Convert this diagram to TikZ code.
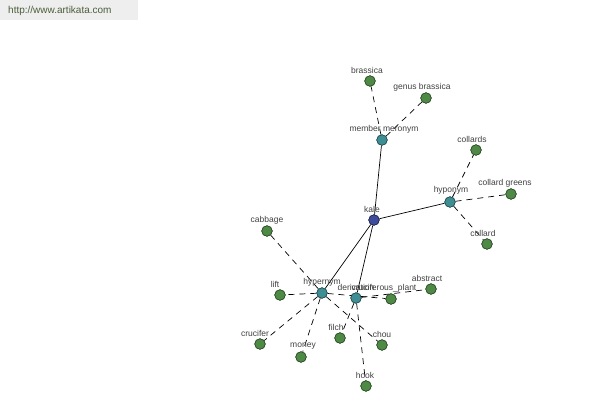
\documentclass[tikz,border=0pt]{standalone}
\usepackage{fontspec}
\setmainfont{Liberation Sans}
\definecolor{leaf}{HTML}{4E8A45}
\definecolor{leafd}{HTML}{2E4A2A}
\definecolor{rel}{HTML}{3E8E94}
\definecolor{reld}{HTML}{234E52}
\definecolor{root}{HTML}{3F4C9C}
\definecolor{rootd}{HTML}{1E2550}
\definecolor{lbl}{HTML}{404040}
\definecolor{wm}{HTML}{EEEEEE}
\definecolor{wmtext}{HTML}{4A5E3A}
\tikzset{
  dot/.style={circle,draw=leafd,fill=leaf,line width=0.6pt,minimum size=10.5pt,inner sep=0pt},
  reldot/.style={dot,draw=reld,fill=rel},
  rootdot/.style={dot,draw=rootd,fill=root},
  lab/.style={font=\fontsize{8.5}{9}\selectfont,text=lbl,inner sep=0pt},
  solidedge/.style={draw=black,line width=0.7pt},
  dashedge/.style={draw=black,line width=0.7pt,dash pattern=on 6pt off 5pt}
}
\begin{document}
\begin{tikzpicture}[x=1pt,y=-1pt]
\useasboundingbox (0,0) rectangle (600,400);
\fill[wm] (0,0) rectangle (138,20);
\node[anchor=west,font=\fontsize{10}{11}\selectfont,text=wmtext,inner sep=0pt] (wmark) at (8,11) {http://www.artikata.com};
% nodes
\node[rootdot] (kale) at (374,220) {};
\node[reldot] (mer) at (382,140) {};
\node[reldot] (hypo) at (450,202) {};
\node[reldot] (hyper) at (322,293) {};
\node[reldot] (deriv) at (356,298) {};
\node[dot] (brassica) at (370,81) {};
\node[dot] (genus) at (426,98) {};
\node[dot] (collards) at (476,150) {};
\node[dot] (cgreens) at (511,194) {};
\node[dot] (collard) at (487,244) {};
\node[dot] (cabbage) at (267,231) {};
\node[dot] (lift) at (280,295) {};
\node[dot] (crucifer) at (260,344) {};
\node[dot] (money) at (301,357) {};
\node[dot] (filch) at (340,338) {};
\node[dot] (chou) at (382,345) {};
\node[dot] (hook) at (366,386) {};
\node[dot] (cplant) at (391,299) {};
\node[dot] (abstract) at (431,289) {};
% edges
\begin{scope}[on background layer/.style={}]
\end{scope}
\draw[solidedge] (kale) -- (mer);
\draw[solidedge] (kale) -- (hypo);
\draw[solidedge] (kale) -- (hyper);
\draw[solidedge] (kale) -- (deriv);
\draw[dashedge] (mer) -- (brassica);
\draw[dashedge] (mer) -- (genus);
\draw[dashedge] (hypo) -- (collards);
\draw[dashedge] (hypo) -- (cgreens);
\draw[dashedge] (hypo) -- (collard);
\draw[dashedge] (hyper) -- (cabbage);
\draw[dashedge] (hyper) -- (lift);
\draw[dashedge] (hyper) -- (crucifer);
\draw[dashedge] (hyper) -- (money);
\draw[dashedge] (hyper) -- (chou);
\draw[dashedge] (hyper) -- (cplant);
\draw[dashedge] (deriv) -- (filch);
\draw[dashedge] (deriv) -- (hook);
\draw[dashedge] (deriv) -- (abstract);
% redraw nodes on top
\foreach \n in {mer,hypo,hyper,deriv}{\fill[rel,draw=reld,line width=0.6pt] (\n) circle (5.25pt);}
\fill[root,draw=rootd,line width=0.6pt] (kale) circle (5.25pt);
\foreach \n in {brassica,genus,collards,cgreens,collard,cabbage,lift,crucifer,money,filch,chou,hook,cplant,abstract}{\fill[leaf,draw=leafd,line width=0.6pt] (\n) circle (5.25pt);}
% labels
\node[lab] (l1) at (372,209) {kale};
\node[lab] (l2) at (384,129) {member meronym};
\node[lab] (l3) at (451,190) {hyponym};
\node[lab] (l4) at (322,282) {hypernym};
\node[lab] (l5) at (356,287) {derivation};
\node[lab] (l6) at (367,70) {brassica};
\node[lab] (l7) at (422,87) {genus brassica};
\node[lab] (l8) at (472,139) {collards};
\node[lab] (l9) at (505,183) {collard greens};
\node[lab] (l10) at (483,233) {collard};
\node[lab] (l11) at (267,220) {cabbage};
\node[lab] (l12) at (275,284) {lift};
\node[lab] (l13) at (255,333) {crucifer};
\node[lab] (l14) at (303,346) {money};
\node[lab] (l15) at (336,327) {filch};
\node[lab] (l16) at (382,334) {chou};
\node[lab] (l17) at (365,375) {hook};
\node[lab] (l18) at (384,288) {cruciferous\_plant};
\node[lab] (l19) at (427,278) {abstract};
\end{tikzpicture}
\end{document}
